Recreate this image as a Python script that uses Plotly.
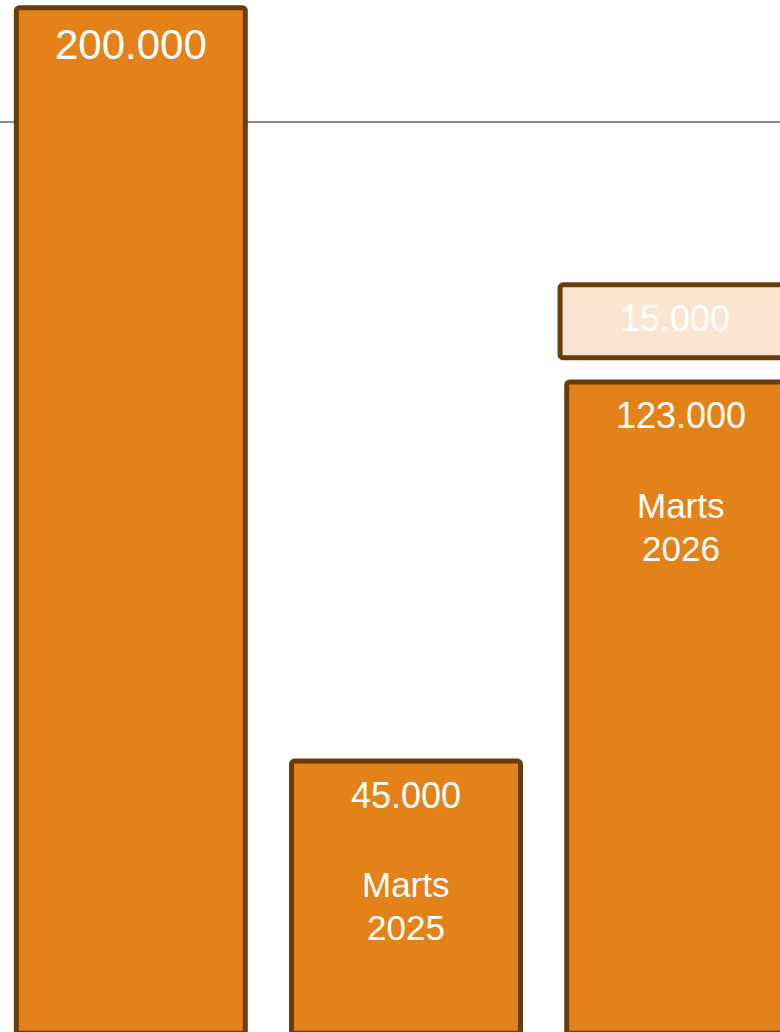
import plotly.graph_objects as go

# ---- data ----
positions = [0, 1, 2]
values = [200000, 45000, 123000]
period_labels = [None, ["Marts", "2025"], ["Marts", "2026"]]
extra_value = 15000          # light box shown above the last bar
extra_gap = 5000             # gap between last bar and light box
reference_line = 176500      # grey horizontal line

# axis window (the chart is a crop)
y_range = [-10740, 201590]
bar_floor = -11000
x_range = [-0.4753, 2.359]

ORANGE = "#E4821A"
EDGE = "#6A3C0A"
PEACH = "#FBE5D0"
FONT = "Liberation Sans, Arial, sans-serif"

def fmt(v):
    return f"{v:,.0f}".replace(",", ".")

fig = go.Figure()

fig.add_trace(go.Bar(
    x=positions,
    y=[v - bar_floor for v in values],
    base=bar_floor,
    width=0.832,
    marker=dict(color=ORANGE, line=dict(color=EDGE, width=5), cornerradius=3),
    hoverinfo="skip",
    showlegend=False,
))

extra_base = values[2] + extra_gap
fig.add_trace(go.Bar(
    x=[positions[2]],
    y=[extra_value],
    base=extra_base,
    width=0.832,
    offset=-0.416 - 0.0243,
    marker=dict(color=PEACH, line=dict(color=EDGE, width=5), cornerradius=3),
    hoverinfo="skip",
    showlegend=False,
))

fig.add_shape(type="line", xref="paper", x0=-0.02, x1=1.02, yref="y",
              y0=reference_line, y1=reference_line,
              line=dict(color="#8C8C8C", width=2), layer="below")

annotations = []
for i, (p, v, lab) in enumerate(zip(positions, values, period_labels)):
    big = i == 0
    annotations.append(dict(
        x=p, y=v, xref="x", yref="y", text=fmt(v), showarrow=False,
        yanchor="middle", xanchor="center",
        yshift=-37 if big else -34,
        font=dict(family=FONT, size=42 if big else 36, color="white"),
    ))
    if lab:
        for line, shift in zip(lab, [-123.5, -166.5]):
            annotations.append(dict(
                x=p, y=v, xref="x", yref="y", text=line, showarrow=False,
                yanchor="middle", xanchor="center", yshift=shift,
                font=dict(family=FONT, size=35, color="white"),
            ))

annotations.append(dict(
    x=positions[2], y=extra_base + extra_value, xref="x", yref="y",
    text=fmt(extra_value), showarrow=False, yanchor="middle", xanchor="center",
    yshift=-34, xshift=-6.7,
    font=dict(family=FONT, size=36, color="white"),
))

fig.update_layout(
    width=780, height=1032,
    margin=dict(l=0, r=0, t=0, b=0),
    paper_bgcolor="white", plot_bgcolor="white",
    xaxis=dict(range=x_range, visible=False, fixedrange=True),
    yaxis=dict(range=y_range, visible=False, fixedrange=True),
    annotations=annotations,
    barmode="overlay",
    showlegend=False,
)

fig.write_html(
    "out.html",
    config={"displayModeBar": False},
    post_script="document.body.style.margin='0';document.body.style.overflow='hidden';",
)
